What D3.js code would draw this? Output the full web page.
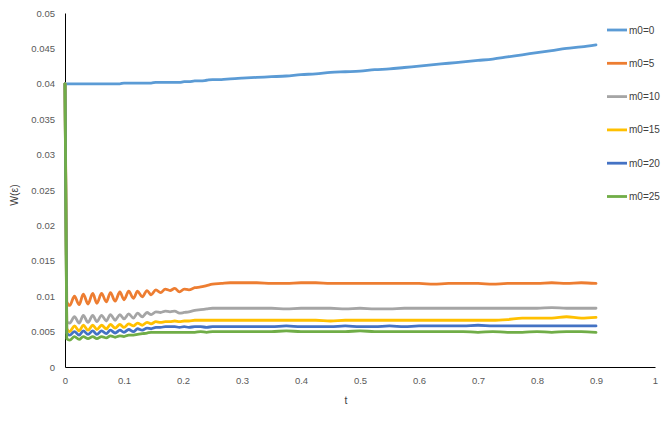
<!DOCTYPE html>
<html><head><meta charset="utf-8">
<script src="https://cdn.jsdelivr.net/npm/d3@7"></script>
<style>body{margin:0;background:#fff}svg{display:block}</style>
</head><body>
<svg id="c" width="672" height="444"></svg>
<script>
const tValues = [0,0.003,0.008,0.016,0.024,0.031,0.039,0.047,0.054,0.062,0.070,0.077,0.085,0.093,0.100,0.108,0.116,0.123,0.131,0.139,0.146,0.154,0.162,0.170,0.178,0.186,0.194,0.202,0.210,0.220,0.230,0.240,0.250,0.265,0.280,0.300,0.325,0.35,0.375,0.4,0.425,0.45,0.475,0.5,0.525,0.55,0.575,0.6,0.625,0.65,0.675,0.7,0.725,0.75,0.775,0.8,0.825,0.85,0.875,0.9];

const seriesNames = ["m0=0","m0=5","m0=10","m0=15","m0=20","m0=25"];
const seriesColors = ["#5B9BD5","#ED7D31","#A5A5A5","#FFC000","#4472C4","#70AD47"];

const m0_0 = [0.0400,0.0400,0.0400,0.0400,0.0400,0.0400,0.0400,0.0400,0.0400,0.0400,0.0400,0.0400,0.0400,0.0400,0.0401,0.0401,0.0401,0.0401,0.0401,0.0401,0.0401,0.0402,0.0402,0.0402,0.0402,0.0402,0.0402,0.0403,0.0403,0.0404,0.0404,0.0405,0.0406,0.0406,0.0407,0.0408,0.0409,0.0410,0.0411,0.0413,0.0414,0.0416,0.0417,0.0418,0.0420,0.0421,0.0423,0.0425,0.0427,0.0429,0.0431,0.0433,0.0435,0.0438,0.0441,0.0444,0.0447,0.0450,0.0452,0.0455];
const m0_5 = [0.0400,0.0092,0.0087,0.0100,0.0088,0.0103,0.0089,0.0104,0.0090,0.0104,0.0092,0.0105,0.0093,0.0106,0.0095,0.0107,0.0097,0.0107,0.0099,0.0108,0.0102,0.0109,0.0105,0.0110,0.0108,0.0111,0.0106,0.0110,0.0109,0.0112,0.0113,0.0115,0.0117,0.0118,0.0119,0.0119,0.0119,0.0118,0.0118,0.0119,0.0119,0.0118,0.0118,0.0118,0.0118,0.0118,0.0118,0.0118,0.0117,0.0118,0.0118,0.0118,0.0117,0.0118,0.0118,0.0118,0.0119,0.0118,0.0119,0.0118];
const m0_10 = [0.0400,0.0064,0.0062,0.0071,0.0062,0.0073,0.0063,0.0073,0.0064,0.0073,0.0065,0.0074,0.0066,0.0074,0.0068,0.0075,0.0069,0.0076,0.0071,0.0077,0.0074,0.0078,0.0077,0.0079,0.0078,0.0079,0.0076,0.0077,0.0078,0.0080,0.0081,0.0082,0.0083,0.0083,0.0083,0.0083,0.0083,0.0083,0.0082,0.0083,0.0083,0.0083,0.0082,0.0083,0.0082,0.0082,0.0083,0.0083,0.0083,0.0083,0.0083,0.0083,0.0083,0.0083,0.0083,0.0083,0.0084,0.0083,0.0083,0.0083];
const m0_15 = [0.0400,0.0054,0.0050,0.0058,0.0051,0.0059,0.0052,0.0059,0.0053,0.0059,0.0054,0.0060,0.0055,0.0060,0.0056,0.0061,0.0058,0.0062,0.0059,0.0063,0.0061,0.0064,0.0063,0.0064,0.0064,0.0065,0.0064,0.0065,0.0065,0.0066,0.0066,0.0066,0.0066,0.0066,0.0066,0.0066,0.0066,0.0066,0.0066,0.0066,0.0066,0.0065,0.0066,0.0066,0.0066,0.0066,0.0066,0.0066,0.0066,0.0066,0.0066,0.0066,0.0066,0.0067,0.0069,0.0069,0.0069,0.0071,0.0069,0.0070];
const m0_20 = [0.0400,0.0048,0.0045,0.0050,0.0045,0.0051,0.0046,0.0051,0.0046,0.0051,0.0047,0.0052,0.0048,0.0052,0.0049,0.0053,0.0050,0.0054,0.0052,0.0055,0.0054,0.0056,0.0056,0.0057,0.0057,0.0057,0.0056,0.0057,0.0056,0.0057,0.0057,0.0056,0.0057,0.0057,0.0057,0.0057,0.0057,0.0057,0.0058,0.0057,0.0057,0.0057,0.0058,0.0057,0.0057,0.0058,0.0057,0.0058,0.0058,0.0058,0.0058,0.0059,0.0058,0.0058,0.0058,0.0058,0.0058,0.0058,0.0058,0.0058];
const m0_25 = [0.0400,0.0040,0.0038,0.0043,0.0039,0.0043,0.0040,0.0043,0.0040,0.0043,0.0041,0.0044,0.0042,0.0044,0.0043,0.0045,0.0045,0.0046,0.0047,0.0048,0.0049,0.0049,0.0049,0.0049,0.0049,0.0049,0.0049,0.0049,0.0049,0.0049,0.0050,0.0049,0.0050,0.0050,0.0050,0.0050,0.0050,0.0050,0.0051,0.0050,0.0050,0.0050,0.0050,0.0051,0.0050,0.0050,0.0050,0.0050,0.0050,0.0050,0.0050,0.0049,0.0050,0.0049,0.0049,0.0050,0.0049,0.0050,0.0050,0.0049];

const xTicks = [0,0.1,0.2,0.3,0.4,0.5,0.6,0.7,0.8,0.9,1];
const yTicks = [0,0.005,0.01,0.015,0.02,0.025,0.03,0.035,0.04,0.045,0.05];
const xTitle = "t";
const yTitle = "W(ε)";

const allSeries = [m0_0,m0_5,m0_10,m0_15,m0_20,m0_25];

const svg = d3.select("#c");
const L = 65, T = 13, W = 590, H = 354;
const x = d3.scaleLinear().domain([0,1]).range([L, L+W]);
const y = d3.scaleLinear().domain([0,0.05]).range([T+H, T]);
const font = "'Liberation Sans', Arial, sans-serif";

const xAxis = svg.append("g").attr("transform",`translate(0,${T+H})`)
  .call(d3.axisBottom(x).tickValues(xTicks).tickSize(0).tickPadding(10).tickFormat(d => d3.format("")(d)));
const yAxis = svg.append("g").attr("transform",`translate(${L},0)`)
  .call(d3.axisLeft(y).tickValues(yTicks).tickSize(0).tickPadding(10).tickFormat(d => d3.format("")(+d.toFixed(3))));
[xAxis,yAxis].forEach(a => {
  a.select(".domain").attr("stroke","#000").attr("stroke-width",1);
  a.selectAll("text").attr("font-family",font).attr("font-size",9.5).attr("fill","#595959");
});

const line = d3.line().x((d,i) => x(tValues[i])).y(d => y(d)).curve(d3.curveMonotoneX);
allSeries.forEach((s,k) => {
  svg.append("path").datum(s).attr("d", line)
    .attr("fill","none").attr("stroke",seriesColors[k]).attr("stroke-width",2.8)
    .attr("stroke-linejoin","round").attr("stroke-linecap","round");
});

// legend
const lg = svg.append("g");
seriesNames.forEach((n,k) => {
  const yy = 30 + k*33.3;
  lg.append("line").attr("x1",607).attr("x2",627).attr("y1",yy).attr("y2",yy)
    .attr("stroke",seriesColors[k]).attr("stroke-width",2.8);
  lg.append("text").attr("x",629).attr("y",yy).attr("dy","0.35em")
    .attr("font-family",font).attr("font-size",10).attr("fill","#404040").text(n);
});

svg.append("text").attr("x", 346).attr("y", 404).attr("text-anchor","middle")
  .attr("font-family",font).attr("font-size",10.5).attr("fill","#404040").text(xTitle);
svg.append("text").attr("transform",`translate(18,${T+H/2 + 5}) rotate(-90)`).attr("text-anchor","middle")
  .attr("font-family",font).attr("font-size",10.5).attr("fill","#404040").text(yTitle);
</script>
</body></html>
